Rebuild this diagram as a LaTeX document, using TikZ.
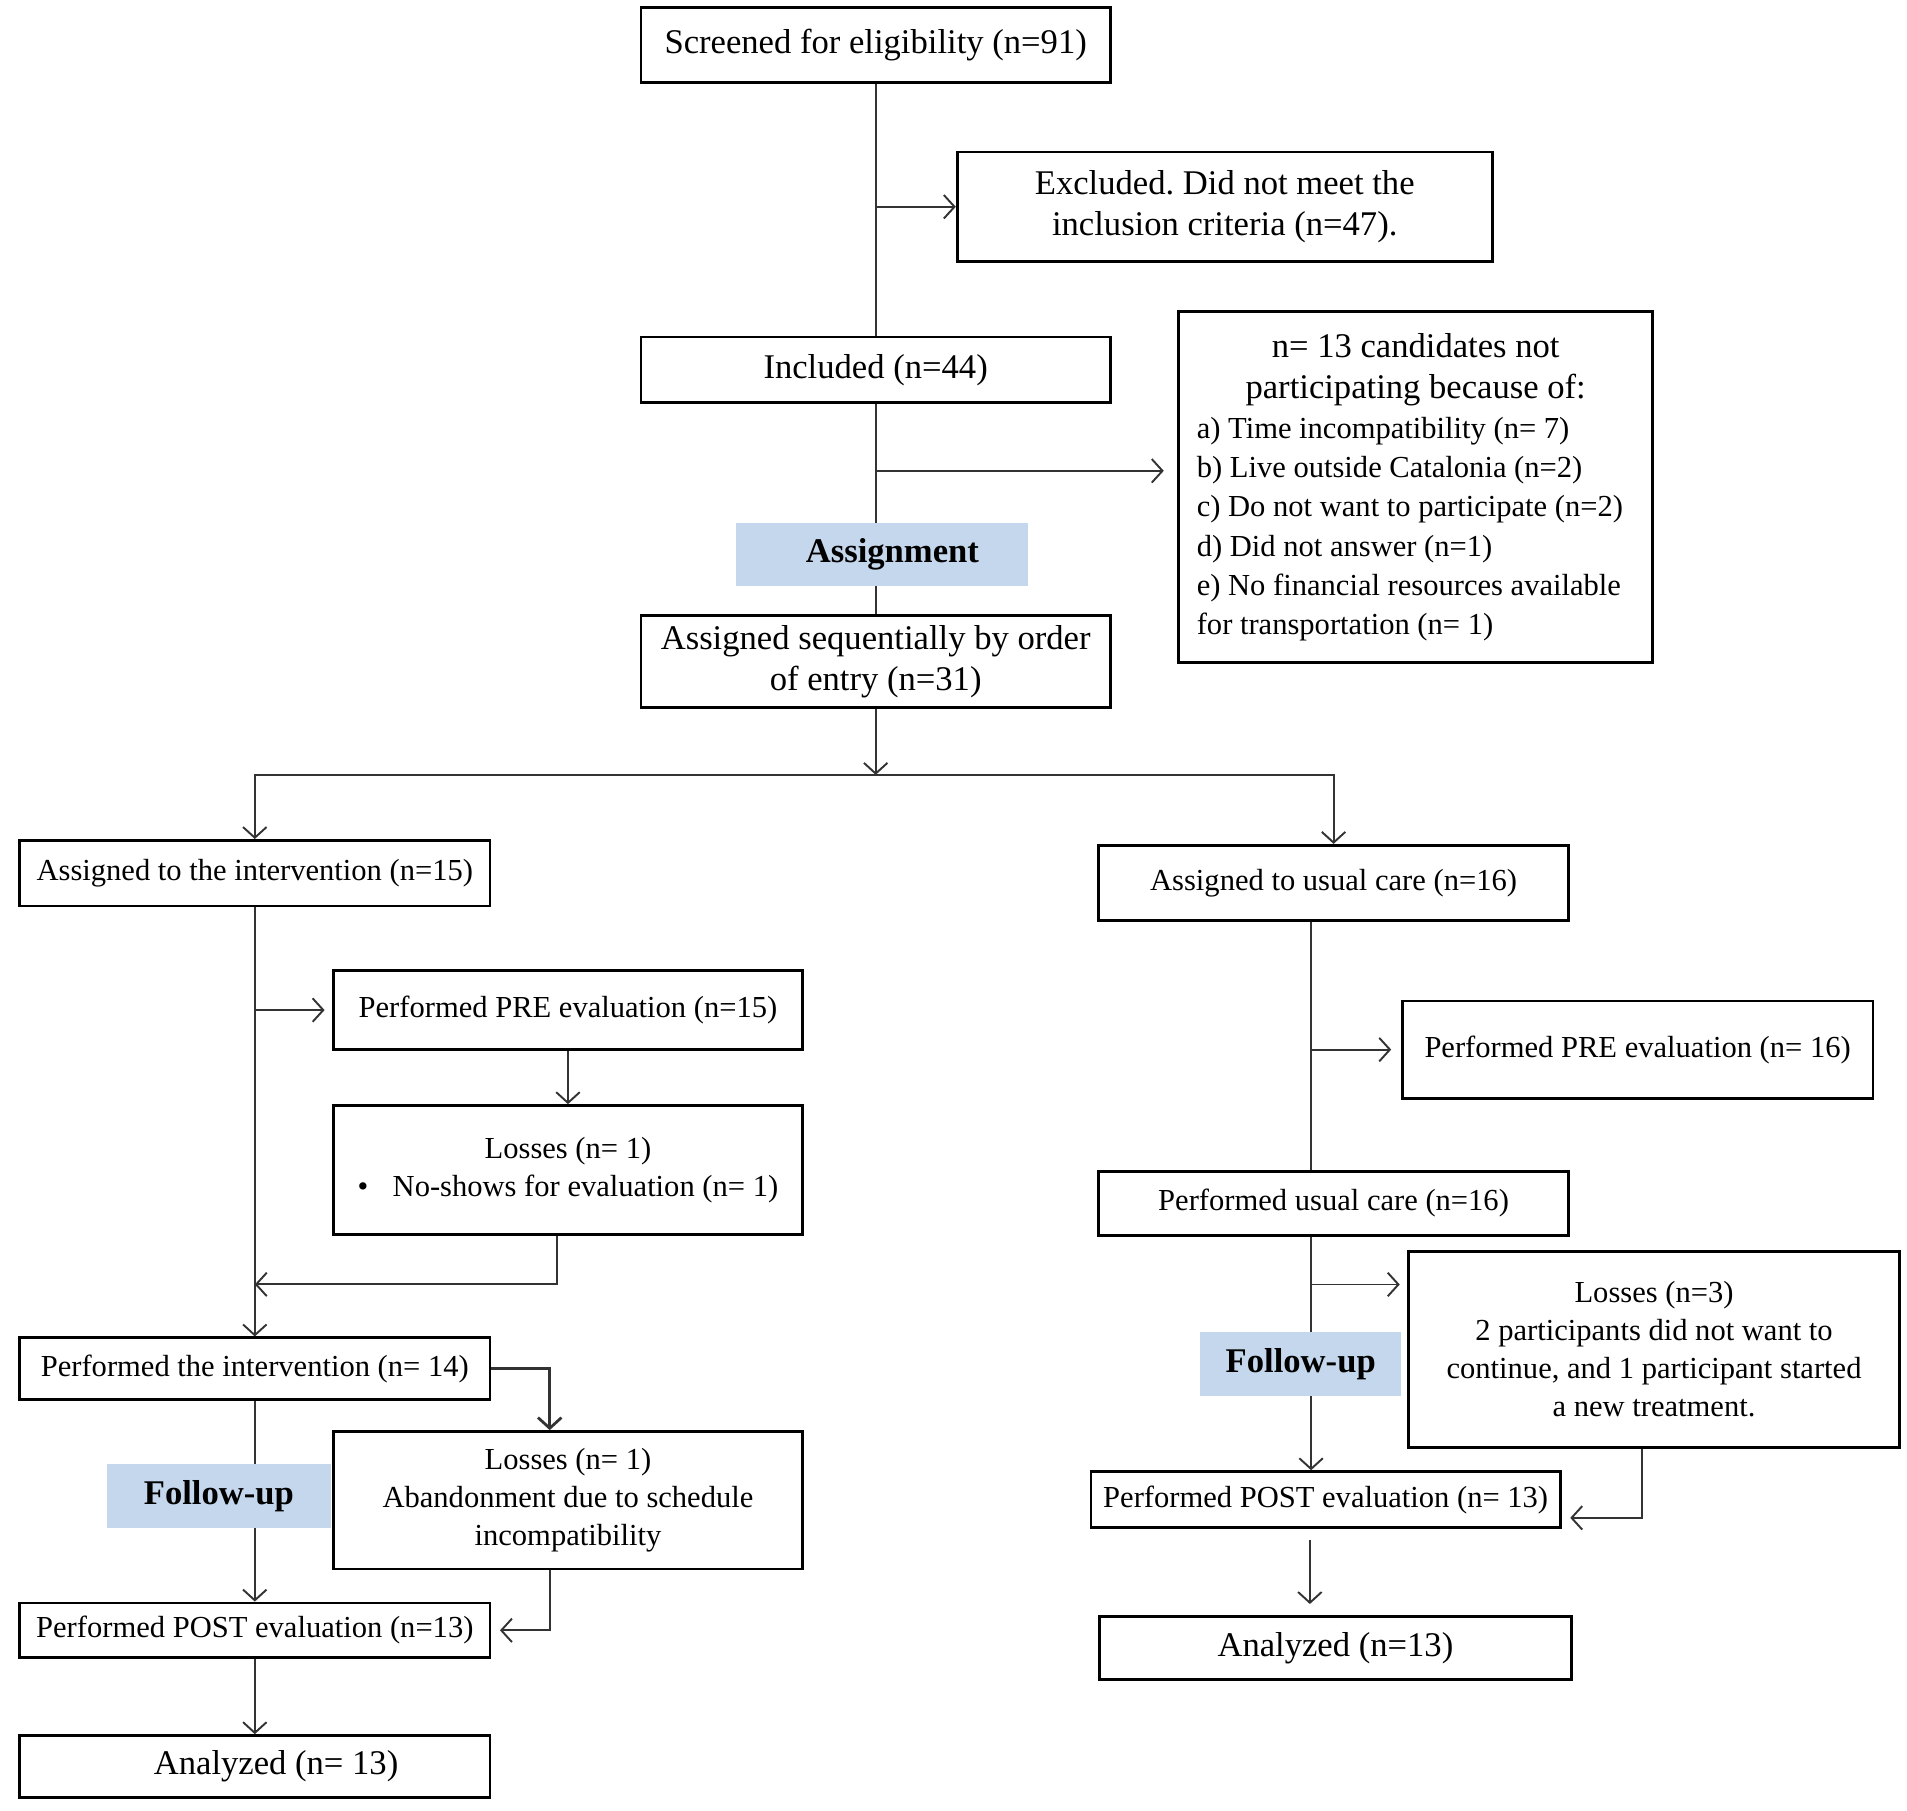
\documentclass[tikz,border=0pt]{standalone}
\usepackage{fontspec}
\setmainfont{Liberation Serif}
\usetikzlibrary{arrows.meta}
\definecolor{phaseblue}{RGB}{197,215,236}
\frenchspacing
\newcommand{\bigtxt}{\fontsize{16.2}{19.5}\selectfont}
\newcommand{\smalltxt}{\fontsize{14.3}{17.8}\selectfont}
\tikzset{
  stage/.style={draw, line width=1.3pt, inner sep=2pt, align=center, font=\bigtxt},
  substage/.style={stage, font=\smalltxt},
  phase/.style={fill=phaseblue, inner sep=2pt, font=\bigtxt\bfseries},
  flow/.style={line width=0.9pt, draw=black!80},
  arr/.style={flow, -{Straight Barb[length=5pt,width=11pt]}}
}
\begin{document}
\begin{tikzpicture}[x=0.02cm,y=-0.02cm]
  \useasboundingbox (0,0) rectangle (1568,1489);

  \node[stage, minimum width=7.72cm, minimum height=1.24cm] (screen) at (720,37) {Screened for eligibility (n=91)};
  \node[stage, minimum width=8.8cm, minimum height=1.8cm] (excl) at (1007,170) {Excluded. Did not meet the\\ inclusion criteria (n=47).};
  \node[stage, minimum width=7.72cm, minimum height=1.08cm] (incl) at (720,304) {Included (n=44)};
  \node[stage, minimum width=7.8cm, minimum height=5.78cm, text width=7.2cm, align=left, inner xsep=0.3cm] (reasons) at (1164,400.5)
    {\spaceskip=0pt \xspaceskip=0pt
     {\centering n= 13 candidates not\\ participating because of:\par}
     \fontsize{14.3}{18.4}\selectfont\raggedright\hyphenpenalty=10000
     a) Time incompatibility (n= 7)\\
     b) Live outside Catalonia (n=2)\\
     c) Do not want to participate (n=2)\\
     d) Did not answer (n=1)\\
     e) No financial resources available\\
     for transportation (n= 1)\par};
  \node[stage, minimum width=7.72cm, minimum height=1.52cm] (seq) at (720,544) {Assigned sequentially by order\\ of entry (n=31)};

  \node[substage, minimum width=7.74cm, minimum height=1.08cm] (interv) at (209.5,718) {Assigned to the intervention (n=15)};
  \node[substage, minimum width=7.72cm, minimum height=1.3cm] (preL) at (467,830.5) {Performed PRE evaluation (n=15)};
  \node[substage, minimum width=7.72cm, minimum height=2.12cm] (lossL) at (467,962) {Losses (n= 1)\\ \textbullet\hspace{0.4cm}No-shows for evaluation (n= 1)};
  \node[substage, minimum width=7.74cm, minimum height=1.02cm] (doneint) at (209.5,1125.5) {Performed the intervention (n= 14)};
  \node[substage, minimum width=7.72cm, minimum height=2.26cm] (lossL2) at (467,1233.5) {Losses (n= 1)\\ Abandonment due to schedule\\ incompatibility};
  \node[substage, minimum width=7.74cm, minimum height=0.9cm] (postL) at (209.5,1340.5) {Performed POST evaluation (n=13)};
  \node[stage, minimum width=7.74cm, minimum height=1.02cm] (anaL) at (209.5,1452.5) {\hspace*{0.7cm}Analyzed (n= 13)};

  \node[substage, minimum width=7.74cm, minimum height=1.24cm] (care) at (1096.5,726) {Assigned to usual care (n=16)};
  \node[substage, minimum width=7.74cm, minimum height=1.6cm] (preR) at (1346.5,863) {Performed PRE evaluation (n= 16)};
  \node[substage, minimum width=7.74cm, minimum height=1.06cm] (doneusual) at (1096.5,989.5) {Performed usual care (n=16)};
  \node[substage, minimum width=8.08cm, minimum height=3.22cm] (lossR) at (1360,1109.5) {Losses (n=3)\\ 2 participants did not want to\\ continue, and 1 participant started\\ a new treatment.};
  \node[substage, minimum width=7.72cm, minimum height=0.92cm] (postR) at (1090,1233) {Performed POST evaluation (n= 13)};
  \node[stage, minimum width=7.76cm, minimum height=1.04cm] (anaR) at (1098,1355) {Analyzed (n=13)};

  \draw[flow] (screen) -- (incl);
  \draw[arr] (screen.south |- excl.west) -- (excl.west);
  \draw[flow] (incl) -- (seq);
  \coordinate (drop) at ([yshift=-1.1cm]incl.south);
  \draw[arr, shorten >=0.22cm] (drop) -- (drop -| reasons.west);
  \coordinate (split) at ([yshift=-1.08cm]seq.south);
  \draw[arr] (seq) -- (split);
  \draw[arr] (split) -| (interv);
  \draw[arr] (split) -| (care);

  \draw[arr] (interv) -- (doneint);
  \draw[arr, shorten >=0.12cm] (interv.south |- preL.west) -- (preL.west);
  \draw[arr] (preL) -- (lossL);
  \coordinate (mergeL) at ([yshift=-6.2cm]interv.south);
  \draw[arr] ([xshift=-0.18cm]lossL.south) |- (mergeL);
  \draw[arr, line width=1.3pt] (doneint.east) -| ([xshift=-0.3cm]lossL2.north);
  \draw[arr] (doneint) -- (postL);
  \draw[arr, shorten >=0.14cm] ([xshift=-0.3cm]lossL2.south) |- (postL.east);
  \draw[arr] (postL) -- (anaL);

  \coordinate (careline) at ([xshift=-0.37cm]care.south);
  \draw[flow] (careline) -- (careline |- doneusual.north);
  \draw[arr, shorten >=0.16cm] (careline |- preR.west) -- (preR.west);
  \coordinate (usualline) at ([xshift=-0.37cm]doneusual.south);
  \draw[arr] (usualline) -- (usualline |- postR.north);
  \coordinate (tolossR) at ([yshift=-0.78cm]usualline);
  \draw[arr, shorten >=0.12cm] (tolossR) -- (tolossR -| lossR.west);
  \draw[arr, shorten >=0.14cm] ([xshift=-0.2cm]lossR.south) |- ([yshift=-0.3cm]postR.east);
  \coordinate (postline) at ([xshift=-0.26cm]postR.south);
  \draw[arr, shorten <=0.18cm, shorten >=0.18cm] (postline) -- (postline |- anaR.north);

  \node[phase, minimum width=4.8cm, minimum height=1.04cm] (assign) at (725,456) {\hspace*{0.35cm}Assignment};
  \node[phase, minimum width=3.68cm, minimum height=1.04cm] (followL) at (180,1230) {Follow-up};
  \node[phase, minimum width=3.3cm, minimum height=1.06cm] (followR) at (1069.5,1121.5) {Follow-up};
\end{tikzpicture}
\end{document}
